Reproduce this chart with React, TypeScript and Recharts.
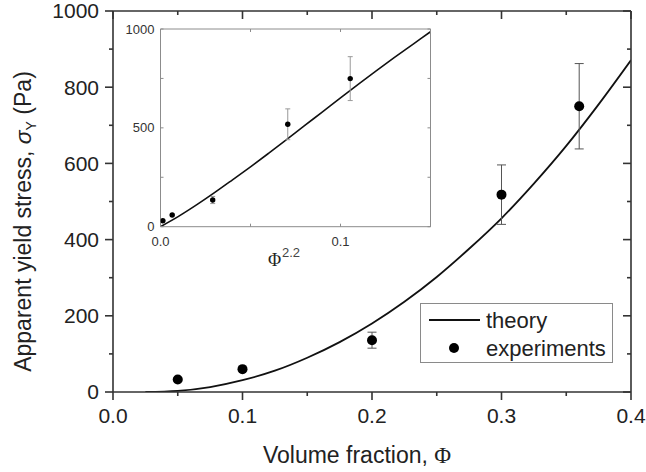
import {
  ComposedChart,
  Line,
  Scatter,
  XAxis,
  YAxis,
  ErrorBar,
  Legend,
  Label,
} from "recharts";

const SANS = "'Liberation Sans', Arial, Helvetica, sans-serif";
const SERIF = "'Liberation Serif', 'Times New Roman', serif";
const INK = "#222";
const FRAME = "#333";
const INSET_FRAME = "#8c8c8c";

// main plot: theory curve
const theoryPhi = [0.025, 0.05, 0.075, 0.1, 0.125, 0.15, 0.175, 0.2, 0.225, 0.25, 0.275, 0.3, 0.325, 0.35, 0.375, 0.4];
const theoryStress = [0, 3, 13, 31, 56, 90, 131, 180, 237, 302, 376, 456, 547, 646, 755, 871];

// main plot: experiments with error bars
const expPhi = [0.05, 0.1, 0.2, 0.3, 0.36];
const expStress = [33, 60, 136, 518, 750];
const expErr = [2, 2, 21, 78, 112];

// inset: stress against phi^2.2
const insetLineX = [0, 0.01, 0.02, 0.03, 0.04, 0.05, 0.06, 0.07, 0.08, 0.09, 0.1, 0.11, 0.12, 0.13, 0.14, 0.15];
const insetLineY = [0, 52, 110, 172, 237, 303, 371, 440, 511, 581, 652, 721, 789, 856, 921, 986];
const insetExpX = [0.0013, 0.0065, 0.029, 0.0707, 0.1054];
const insetExpY = [30, 59, 135, 518, 749];
const insetExpErr = [1, 1, 18, 78, 111];

// ticks
const xMajor = [0, 0.1, 0.2, 0.3, 0.4];
const xMinor = [0.05, 0.15, 0.25, 0.35];
const yMajor = [0, 200, 400, 600, 800, 1000];
const yMinor = [100, 300, 500, 700, 900];
const insetXMajor = [0, 0.1];
const insetXMinor = [0.05, 0.15];
const insetYMajor = [0, 500, 1000];
const insetYMinor = [250, 750];

const legendNames = ["theory", "experiments"];

const theoryData = theoryPhi.map((x, i) => ({ x, y: theoryStress[i] }));
const expData = expPhi.map((x, i) => ({ x, y: expStress[i], err: expErr[i] }));
const insetLineData = insetLineX.map((x, i) => ({ x, y: insetLineY[i] }));
const insetExpData = insetExpX.map((x, i) => ({ x, y: insetExpY[i], err: insetExpErr[i] }));

const merge = (a: number[], b: number[]) => [...a, ...b].sort((p, q) => p - q);

type Side = "bottom" | "left" | "top" | "right";
const DIR: Record<Side, [number, number]> = {
  bottom: [0, 1],
  top: [0, -1],
  left: [-1, 0],
  right: [1, 0],
};

interface TickOpts {
  major: number[];
  majorLen: number;
  minorLen: number;
  inward: boolean;
  stroke: string;
  strokeWidth: number;
  format?: (v: number) => string;
  fontSize?: number;
  gap?: number;
  fill?: string;
}

// draws tick line (major/minor length) and label for majors
function axisTick(side: Side, o: TickOpts) {
  return (props: any) => {
    const { x, y, payload } = props;
    const v = payload.value as number;
    const isMajor = o.major.some((m) => Math.abs(m - v) < 1e-9);
    const len = isMajor ? o.majorLen : o.minorLen;
    const [dx, dy] = DIR[side];
    const s = o.inward ? -1 : 1;
    let label = null;
    if (isMajor && o.format) {
      const gap = (o.inward ? 0 : len) + (o.gap ?? 6);
      const common = { fontFamily: SANS, fontSize: o.fontSize, fill: o.fill };
      if (side === "bottom") {
        label = (
          <text x={x} y={y + gap} dy="0.71em" textAnchor="middle" {...common}>
            {o.format(v)}
          </text>
        );
      } else if (side === "left") {
        label = (
          <text x={x - gap} y={y} dy="0.35em" textAnchor="end" {...common}>
            {o.format(v)}
          </text>
        );
      }
    }
    return (
      <g>
        <line
          x1={x}
          y1={y}
          x2={x + dx * s * len}
          y2={y + dy * s * len}
          stroke={o.stroke}
          strokeWidth={o.strokeWidth}
        />
        {label}
      </g>
    );
  };
}

const dotShape = (r: number) => (props: any) =>
  <circle cx={props.cx} cy={props.cy} r={r} fill="#000" />;

const XTitle = (props: any) => {
  const vb = props.viewBox;
  const cx = vb.x + vb.width / 2 - 15;
  return (
    <text x={cx} y={463} textAnchor="middle" fontFamily={SANS} fontSize={23} fill={INK}>
      {"Volume fraction, "}
      <tspan fontFamily={SERIF}>Φ</tspan>
    </text>
  );
};

const YTitle = (props: any) => {
  const vb = props.viewBox;
  const cx = vb.x + 31;
  const cy = vb.y + vb.height / 2 + 20;
  return (
    <text
      x={cx}
      y={cy}
      transform={`rotate(-90 ${cx} ${cy})`}
      textAnchor="middle"
      fontFamily={SANS}
      fontSize={23}
      fill={INK}
    >
      {"Apparent yield stress, "}
      <tspan fontStyle="italic">σ</tspan>
      <tspan fontSize={14} dy={5}>Y</tspan>
      <tspan dy={-5}>{" (Pa)"}</tspan>
    </text>
  );
};

const InsetXTitle = (props: any) => {
  const vb = props.viewBox;
  const x0 = vb.x + vb.width / 2 - 27.5;
  return (
    <g>
      <text x={x0} y={vb.y + 39} fontFamily={SERIF} fontSize={18} fill={INK}>
        Φ
      </text>
      <text x={x0 + 14} y={vb.y + 30} fontFamily={SANS} fontSize={13} fill="#444">
        2.2
      </text>
    </g>
  );
};

const MainLegend = () => (
  <div
    style={{
      boxSizing: "border-box",
      width: 193,
      height: 60,
      border: "1px solid #8a8a8a",
      background: "#fff",
    }}
  >
    <svg width={191} height={58} style={{ display: "block" }}>
      <line x1={8} x2={59} y1={16} y2={16} stroke="#111" strokeWidth={1.8} />
      <text x={65} y={16} dy="0.35em" fontFamily={SANS} fontSize={22} fill={INK}>
        {legendNames[0]}
      </text>
      <circle cx={33} cy={44} r={5} fill="#000" />
      <text x={65} y={44} dy="0.35em" fontFamily={SANS} fontSize={22} fill={INK}>
        {legendNames[1]}
      </text>
    </svg>
  </div>
);

const fmt1 = (v: number) => v.toFixed(1);
const fmt0 = (v: number) => String(v);

export default function App() {
  const mainLine = { stroke: FRAME, strokeWidth: 1.6 };
  const insetLine = { stroke: INSET_FRAME, strokeWidth: 1 };
  const mainTick = { stroke: FRAME, strokeWidth: 1.6, majorLen: 8, minorLen: 4 };
  const insetTick = { stroke: INSET_FRAME, strokeWidth: 1, majorLen: 3, minorLen: 3 };

  return (
    <div style={{ position: "absolute", left: 0, top: 0, width: 646, height: 472, background: "#fff" }}>
      <div style={{ position: "absolute", left: 0, top: 0 }}>
        <ComposedChart width={646} height={472} margin={{ top: 11, right: 15, bottom: 0, left: 0 }}>
          <XAxis
            type="number"
            dataKey="x"
            domain={[0, 0.4]}
            ticks={merge(xMajor, xMinor)}
            interval={0}
            allowDataOverflow
            height={80}
            tickSize={0}
            tickMargin={0}
            tickLine={false}
            axisLine={mainLine}
            tick={axisTick("bottom", {
              ...mainTick,
              major: xMajor,
              inward: false,
              format: fmt1,
              fontSize: 21,
              gap: 8,
              fill: INK,
            })}
          >
            <Label content={XTitle} />
          </XAxis>
          <XAxis
            xAxisId="top"
            orientation="top"
            mirror
            type="number"
            dataKey="x"
            domain={[0, 0.4]}
            ticks={merge(xMajor, xMinor)}
            interval={0}
            allowDataOverflow
            height={1}
            tickSize={0}
            tickMargin={0}
            tickLine={false}
            axisLine={mainLine}
            tick={axisTick("top", { ...mainTick, major: xMajor, inward: true })}
          />
          <YAxis
            type="number"
            dataKey="y"
            domain={[0, 1000]}
            ticks={merge(yMajor, yMinor)}
            interval={0}
            allowDataOverflow
            width={113}
            tickSize={0}
            tickMargin={0}
            tickLine={false}
            axisLine={mainLine}
            tick={axisTick("left", {
              ...mainTick,
              major: yMajor,
              inward: false,
              format: fmt0,
              fontSize: 21,
              gap: 6,
              fill: INK,
            })}
          >
            <Label content={YTitle} />
          </YAxis>
          <YAxis
            yAxisId="right"
            orientation="right"
            mirror
            type="number"
            dataKey="y"
            domain={[0, 1000]}
            ticks={merge(yMajor, yMinor)}
            interval={0}
            allowDataOverflow
            width={1}
            tickSize={0}
            tickMargin={0}
            tickLine={false}
            axisLine={mainLine}
            tick={axisTick("right", { ...mainTick, major: yMajor, inward: true })}
          />
          <Line
            data={theoryData}
            dataKey="y"
            name={legendNames[0]}
            type="monotone"
            stroke="#111"
            strokeWidth={1.8}
            dot={false}
            isAnimationActive={false}
          />
          <Scatter
            data={expData}
            dataKey="y"
            name={legendNames[1]}
            fill="#000"
            shape={dotShape(5)}
            isAnimationActive={false}
          >
            <ErrorBar
              dataKey="err"
              direction="y"
              width={4.5}
              stroke="#555"
              strokeWidth={1}
              isAnimationActive={false}
            />
          </Scatter>
          <Legend
            content={MainLegend}
            layout="vertical"
            align="center"
            verticalAlign="middle"
            wrapperStyle={{ left: 420, top: 303, width: 193, height: 60 }}
          />
        </ComposedChart>
      </div>

      <div style={{ position: "absolute", left: 110, top: 10 }}>
        <ComposedChart width={340} height={275} margin={{ top: 19, right: 19.5, bottom: 0, left: 0 }}>
          <XAxis
            type="number"
            dataKey="x"
            domain={[0, 0.15]}
            ticks={merge(insetXMajor, insetXMinor)}
            interval={0}
            allowDataOverflow
            height={58.3}
            tickSize={0}
            tickMargin={0}
            tickLine={false}
            axisLine={insetLine}
            tick={axisTick("bottom", {
              ...insetTick,
              major: insetXMajor,
              inward: true,
              format: fmt1,
              fontSize: 13,
              gap: 10,
              fill: "#333",
            })}
          >
            <Label content={InsetXTitle} />
          </XAxis>
          <XAxis
            xAxisId="top"
            orientation="top"
            mirror
            type="number"
            dataKey="x"
            domain={[0, 0.15]}
            ticks={merge(insetXMajor, insetXMinor)}
            interval={0}
            allowDataOverflow
            height={1}
            tickSize={0}
            tickMargin={0}
            tickLine={false}
            axisLine={insetLine}
            tick={axisTick("top", { ...insetTick, major: insetXMajor, inward: true })}
          />
          <YAxis
            type="number"
            dataKey="y"
            domain={[0, 1000]}
            ticks={merge(insetYMajor, insetYMinor)}
            interval={0}
            allowDataOverflow
            width={50.5}
            tickSize={0}
            tickMargin={0}
            tickLine={false}
            axisLine={insetLine}
            tick={axisTick("left", {
              ...insetTick,
              major: insetYMajor,
              inward: true,
              format: fmt0,
              fontSize: 13,
              gap: 6,
              fill: "#333",
            })}
          />
          <YAxis
            yAxisId="right"
            orientation="right"
            mirror
            type="number"
            dataKey="y"
            domain={[0, 1000]}
            ticks={merge(insetYMajor, insetYMinor)}
            interval={0}
            allowDataOverflow
            width={1}
            tickSize={0}
            tickMargin={0}
            tickLine={false}
            axisLine={insetLine}
            tick={axisTick("right", { ...insetTick, major: insetYMajor, inward: true })}
          />
          <Line
            data={insetLineData}
            dataKey="y"
            type="monotone"
            stroke="#111"
            strokeWidth={1.6}
            dot={false}
            isAnimationActive={false}
          />
          <Scatter
            data={insetExpData}
            dataKey="y"
            fill="#000"
            shape={dotShape(2.7)}
            isAnimationActive={false}
          >
            <ErrorBar
              dataKey="err"
              direction="y"
              width={2.5}
              stroke="#999"
              strokeWidth={1}
              isAnimationActive={false}
            />
          </Scatter>
        </ComposedChart>
      </div>
    </div>
  );
}
